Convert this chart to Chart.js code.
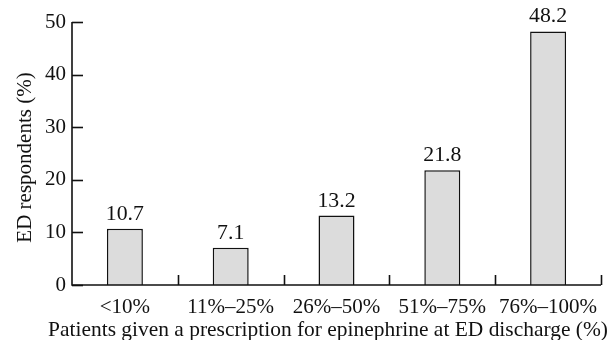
<!DOCTYPE html>
<html>
<head>
<meta charset="utf-8">
<script src="https://cdn.jsdelivr.net/npm/chart.js@4/dist/chart.umd.min.js"></script>
<style>
html,body{margin:0;padding:0;background:#fff;}
#wrap{width:616px;height:340px;position:relative;}
</style>
</head>
<body>
<div id="wrap"><canvas id="c" width="616" height="340"></canvas></div>
<script>
const categories = ["<10%", "11%–25%", "26%–50%", "51%–75%", "76%–100%"];
const respondents = [10.7, 7.1, 13.2, 21.8, 48.2];
const valueLabels = ["10.7", "7.1", "13.2", "21.8", "48.2"];
const yTicks = [0, 10, 20, 30, 40, 50];
const xTitle = 'Patients given a prescription for epinephrine at ED discharge (%)';
const yTitle = 'ED respondents (%)';

const FONT = "'Liberation Serif', 'Times New Roman', serif";
const FS = 21;

const decor = {
  id: 'decor',
  afterDatasetsDraw(chart) {
    const ctx = chart.ctx;
    const x = chart.scales.x, y = chart.scales.y;
    const area = chart.chartArea;
    ctx.save();
    ctx.strokeStyle = '#111';
    ctx.lineWidth = 1.6;
    yTicks.forEach(v => {
      const py = Math.round(y.getPixelForValue(v)) + 0.5;
      ctx.beginPath();
      ctx.moveTo(area.left, py);
      ctx.lineTo(area.left + 11, py);
      ctx.stroke();
    });
    const step = (area.right - area.left) / categories.length;
    for (let i = 1; i <= categories.length; i++) {
      const px = Math.round(x.getPixelForValue(i - 1) + step / 2) + 0.5;
      ctx.beginPath();
      ctx.moveTo(px, area.bottom);
      ctx.lineTo(px, area.bottom - 10);
      ctx.stroke();
    }
    ctx.beginPath();
    ctx.moveTo(area.left, area.top);
    ctx.lineTo(area.left, area.bottom);
    ctx.lineTo(area.right, area.bottom);
    ctx.stroke();
    ctx.fillStyle = '#111';
    ctx.font = "21.8px " + FONT;
    ctx.textAlign = 'center';
    ctx.textBaseline = 'alphabetic';
    const meta = chart.getDatasetMeta(0);
    meta.data.forEach((bar, i) => {
      ctx.fillText(valueLabels[i], bar.x, bar.y - 9);
    });
    // x title: fit to the reference's width
    ctx.font = "21px " + FONT;
    const w = ctx.measureText(xTitle).width;
    const fs = Math.min(23, 21 * 560 / w);
    ctx.font = fs.toFixed(2) + "px " + FONT;
    ctx.fillText(xTitle, 328, 336);
    ctx.save();
    ctx.translate(31, 157.5);
    ctx.rotate(-Math.PI / 2);
    ctx.font = FS + "px " + FONT;
    ctx.fillText(yTitle, 0, 0);
    ctx.restore();
    ctx.restore();
  }
};

new Chart(document.getElementById('c'), {
  type: 'bar',
  data: {
    labels: categories,
    datasets: [{
      data: respondents,
      backgroundColor: '#dcdcdc',
      borderColor: '#111',
      borderWidth: 1.5,
      categoryPercentage: 1.0,
      barPercentage: 0.34
    }]
  },
  options: {
    responsive: false,
    animation: false,
    devicePixelRatio: 1,
    layout: { padding: { top: 22, right: 15, left: 0, bottom: 0 } },
    plugins: { legend: { display: false }, tooltip: { enabled: false } },
    scales: {
      x: {
        offset: true,
        grid: { display: false, drawTicks: false },
        border: { display: false },
        ticks: { color: '#111', font: { family: FONT, size: FS }, padding: 10, maxRotation: 0, autoSkip: false },
        title: { display: false },
        afterFit(s) { s.height = 55; }
      },
      y: {
        min: 0, max: 50,
        afterBuildTicks(s) { s.ticks = yTicks.map(v => ({ value: v })); },
        grid: { display: false, drawTicks: false },
        border: { display: false },
        ticks: { color: '#111', font: { family: FONT, size: FS }, padding: 6 },
        title: { display: false },
        afterFit(s) { s.width = 72; }
      }
    }
  },
  plugins: [decor]
});
</script>
</body>
</html>
